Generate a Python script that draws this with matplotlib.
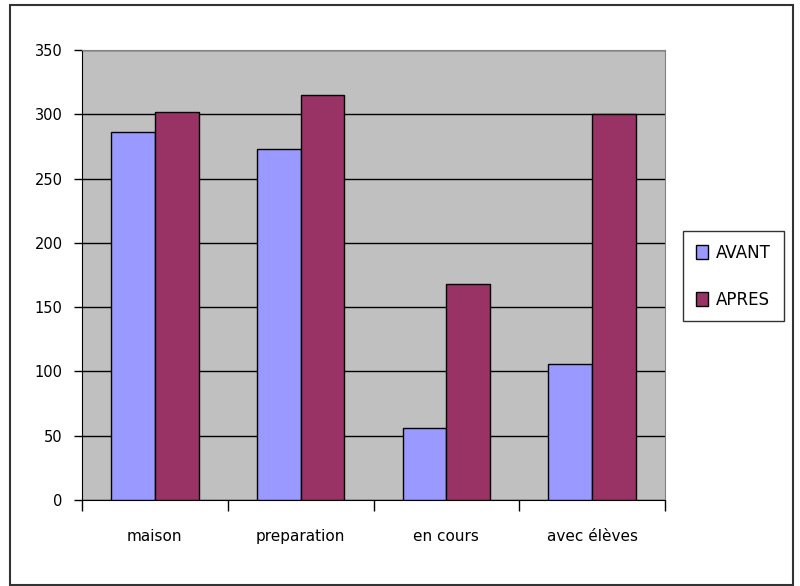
import matplotlib.pyplot as plt
import numpy as np
from matplotlib.patches import Rectangle

categories = ["maison", "preparation", "en cours", "avec élèves"]
avant = [286, 273, 56, 106]
apres = [302, 315, 168, 300]
y_ticks = [0, 50, 100, 150, 200, 250, 300, 350]

plt.rcParams['font.family'] = ['DejaVu Sans']

W, H = 800, 586
fig = plt.figure(figsize=(W / 100, H / 100), dpi=100)

# outer chart border
fig.patches.append(Rectangle((10 / W, 1 - 585 / H), 783 / W, 580 / H,
                             transform=fig.transFigure, fill=False,
                             edgecolor='#333333', linewidth=1.5))

ax = fig.add_axes([82 / W, 1 - 500 / H, (665 - 82) / W, 450 / H])
ax.set_facecolor('#c0c0c0')

x = np.arange(len(categories))
w = 0.30
b1 = ax.bar(x - w / 2, avant, w, color='#9999ff', edgecolor='black', linewidth=1, zorder=3, label='AVANT')
b2 = ax.bar(x + w / 2, apres, w, color='#993366', edgecolor='black', linewidth=1, zorder=3, label='APRES')

ax.set_xlim(-0.5, len(categories) - 0.5)
ax.set_ylim(0, 350)
ax.set_yticks(y_ticks)
ax.set_yticklabels([str(v) for v in y_ticks], fontsize=10.5)
ax.yaxis.grid(True, color='black', linewidth=1, zorder=1)
ax.tick_params(axis='y', direction='out', length=6, width=1, pad=8)

ax.set_xticks(np.arange(len(categories) + 1) - 0.5)
ax.set_xticklabels([])
ax.set_xticks(x, minor=True)
ax.set_xticklabels(categories, minor=True, fontsize=11)
ax.tick_params(axis='x', which='major', direction='out', length=8, width=1)
ax.tick_params(axis='x', which='minor', length=0, pad=21)

for side in ['top', 'right']:
    ax.spines[side].set_color('#808080')
for side in ['left', 'bottom']:
    ax.spines[side].set_color('black')

leg = fig.legend(handles=[b1, b2], loc='upper left',
                 bbox_to_anchor=(683 / W, 1 - 231 / H), fontsize=12,
                 frameon=True, fancybox=False, edgecolor='black',
                 handlelength=0.75, handleheight=0.9, handletextpad=0.5,
                 labelspacing=1.75, borderpad=0.75, borderaxespad=0)
leg.get_frame().set_linewidth(1)

fig.savefig('out.png', dpi=100)
